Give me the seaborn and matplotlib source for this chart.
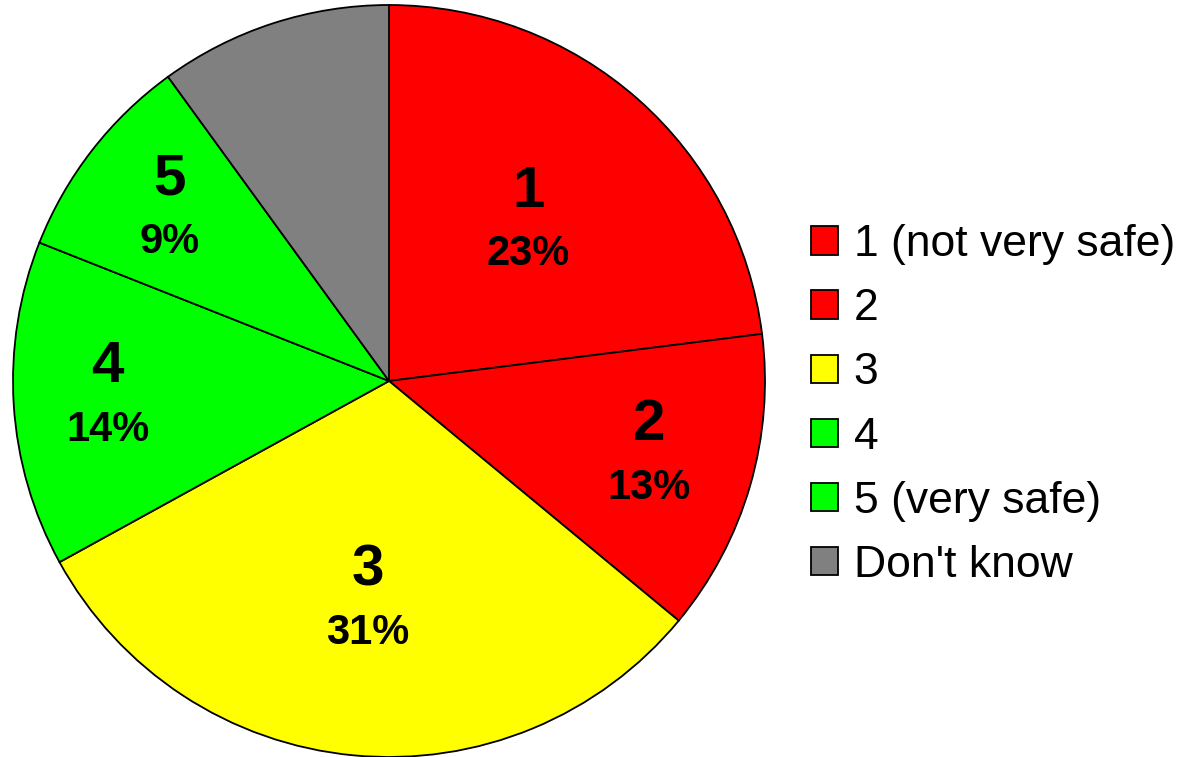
import numpy as np
import matplotlib
matplotlib.use("Agg")
import matplotlib.pyplot as plt
from matplotlib.patches import Patch
import seaborn as sns

# answers to the safety question, share of respondents in %
categories = ["1 (not very safe)", "2", "3", "4", "5 (very safe)", "Don't know"]
short_labels = ["1", "2", "3", "4", "5", ""]
shares = [23, 13, 31, 14, 9, 10]
colors = ["#FF0000", "#FF0000", "#FFFF00", "#00FF00", "#00FF00", "#808080"]

sns.set_theme(style="white")
plt.rcParams["font.family"] = ["Liberation Sans", "DejaVu Sans"]

fig = plt.figure(figsize=(11.84, 7.57), dpi=100)
ax = fig.add_axes([13 / 1184, 0.0, 752 / 1184, 752 / 757])

wedges, _ = ax.pie(shares, colors=colors, startangle=90, counterclock=False,
                   wedgeprops=dict(edgecolor="black", linewidth=1.3))
ax.set_xlim(-1, 1)
ax.set_ylim(-1, 1)
ax.set_aspect("equal")
ax.axis("off")

# how far out from the centre each label pair sits (fraction of radius)
label_r = [0.56, 0.72, 0.59, 0.75, 0.74]
for w, lab, val, r in zip(wedges, short_labels, shares, label_r):
    if not lab:
        continue
    mid = np.deg2rad((w.theta1 + w.theta2) / 2)
    x, y = r * np.cos(mid), r * np.sin(mid)
    ax.text(x, y + 0.083, lab, ha="center", va="center", fontsize=42,
            fontweight="bold", color="black")
    ax.text(x, y - 0.083, f"{val}%", ha="center", va="center", fontsize=30,
            fontweight="bold", color="black")

handles = [Patch(facecolor=c, edgecolor="black", linewidth=1.3) for c in colors]
fig.legend(handles, categories, loc="center left", bbox_to_anchor=(0.685, 0.465),
           frameon=False, fontsize=32, labelcolor="black",
           handlelength=0.61, handleheight=0.61,
           handletextpad=0.35, labelspacing=0.52, borderpad=0, borderaxespad=0)

fig.savefig("out.png", dpi=100)
